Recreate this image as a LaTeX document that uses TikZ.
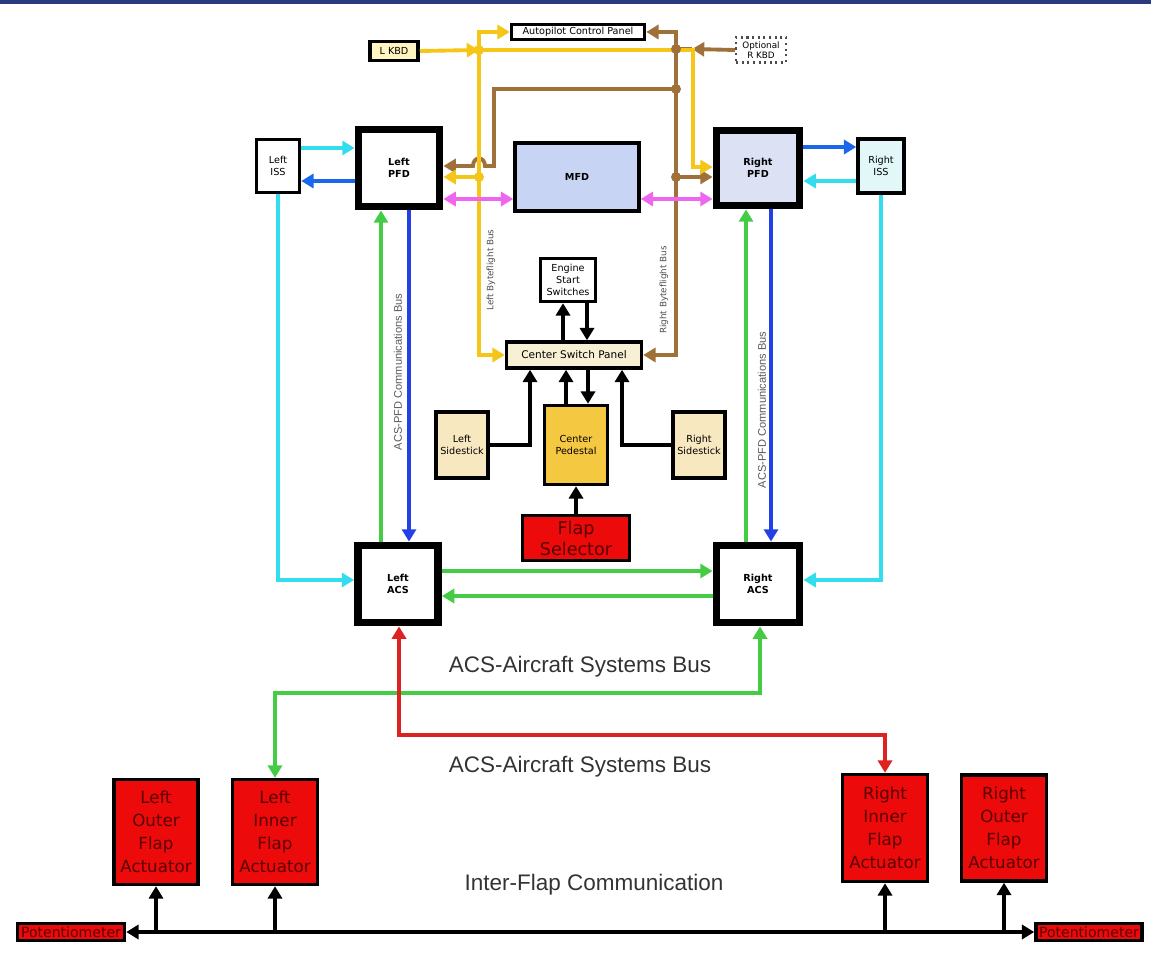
\documentclass[tikz,border=0pt]{standalone}
\usepackage{fontspec}
\setmainfont{Liberation Sans}
\newfontfamily\boxfont{DejaVu Sans}
\usetikzlibrary{arrows.meta}
\definecolor{navy}{HTML}{2B3A7E}
\definecolor{busyellow}{HTML}{F5C518}
\definecolor{busbrown}{HTML}{A0703A}
\definecolor{isscyan}{HTML}{33DDEE}
\definecolor{pfdblue}{HTML}{2340E6}
\definecolor{mfdpink}{HTML}{EE66EE}
\definecolor{acsgreen}{HTML}{44CC44}
\definecolor{acsred}{HTML}{DD2222}
\definecolor{flapred}{HTML}{EC0A0A}
\definecolor{flaptext}{HTML}{5A0000}
\definecolor{mfdfill}{HTML}{C8D4F4}
\definecolor{pfdfill}{HTML}{DCE2F4}
\definecolor{issfill}{HTML}{E2F8F8}
\definecolor{kbdfill}{HTML}{FFF5C0}
\definecolor{cspfill}{HTML}{F8F0D4}
\definecolor{stickfill}{HTML}{F8E8C0}
\definecolor{pedfill}{HTML}{F5C842}
\begin{document}
\begin{tikzpicture}[x=0.02cm, y=-0.02cm, >={Triangle[length=7pt,width=8pt]},
	box/.style={draw, line width=2pt, fill=white, align=center, inner sep=1pt, font=\boxfont\fontsize{5.5}{7}\selectfont},
	thickbox/.style={box, line width=4.5pt, font=\boxfont\bfseries\fontsize{5.5}{7}\selectfont},
	flapbox/.style={box, fill=flapred, text=flaptext, font=\boxfont\fontsize{9.5}{13}\selectfont},
	potbox/.style={box, fill=flapred, text=flaptext, font=\boxfont\fontsize{8}{9}\selectfont},
	buslabel/.style={font=\fontsize{12.8}{14}\selectfont, text=black!80},
	sidelabel/.style={rotate=90, font=\fontsize{6.3}{7}\selectfont, text=black!65},
	bflabel/.style={rotate=90, font=\boxfont\fontsize{5}{6}\selectfont, text=black!70},
	ybus/.style={busyellow, line width=2.2pt},
	bbus/.style={busbrown, line width=2.2pt},
	wire/.style={line width=2.2pt}]
	\useasboundingbox (0,0) rectangle (1151,962);
	\fill[navy] (0,0) rectangle (1151,4);

	\node[box, fill=kbdfill, minimum width=0.96cm, minimum height=0.38cm] (lkbd) at (394,51) {L KBD};
	\node[box, minimum width=2.66cm, minimum height=0.3cm] (apcp) at (578,32) {Autopilot Control Panel};
	\node[box, draw=black!70, line width=1.2pt, dotted, minimum width=1.0cm, minimum height=0.5cm, font=\boxfont\fontsize{5}{6}\selectfont] (rkbd) at (761,50) {Optional\\R KBD};
	\node[box, minimum width=0.86cm, minimum height=1.06cm] (liss) at (278,166) {Left\\ISS};
	\node[thickbox, minimum width=1.62cm, minimum height=1.54cm] (lpfd) at (399,168) {Left\\PFD};
	\node[box, fill=mfdfill, minimum width=2.48cm, minimum height=1.36cm, font=\boxfont\bfseries\fontsize{5.5}{7}\selectfont] (mfd) at (577,177) {MFD};
	\node[thickbox, fill=pfdfill, minimum width=1.66cm, minimum height=1.5cm] (rpfd) at (758,168) {Right\\PFD};
	\node[box, fill=issfill, minimum width=0.92cm, minimum height=1.08cm] (riss) at (881,166) {Right\\ISS};
	\node[box, minimum width=1.1cm, minimum height=0.86cm] (ess) at (568,280) {Engine\\Start\\Switches};
	\node[box, fill=cspfill, minimum width=2.7cm, minimum height=0.52cm, font=\boxfont\fontsize{6}{7}\selectfont] (csp) at (574,355) {Center Switch Panel};
	\node[box, fill=stickfill, minimum width=1.04cm, minimum height=1.32cm] (lstick) at (462,445) {Left\\Sidestick};
	\node[box, fill=pedfill, minimum width=1.26cm, minimum height=1.58cm] (pedestal) at (576,445) {Center\\Pedestal};
	\node[box, fill=stickfill, minimum width=1.04cm, minimum height=1.32cm] (rstick) at (699,445) {Right\\Sidestick};
	\node[flapbox, minimum width=2.14cm, minimum height=0.9cm, font=\boxfont\fontsize{10}{12}\selectfont] (flapsel) at (576,538) {Flap\\Selector};
	\node[thickbox, minimum width=1.6cm, minimum height=1.54cm] (lacs) at (398,584) {Left\\ACS};
	\node[thickbox, minimum width=1.66cm, minimum height=1.54cm] (racs) at (758,584) {Right\\ACS};
	\node[flapbox, minimum width=1.68cm, minimum height=2.1cm] (lofa) at (156,832) {Left\\Outer\\Flap\\Actuator};
	\node[flapbox, minimum width=1.7cm, minimum height=2.1cm] (lifa) at (275,832) {Left\\Inner\\Flap\\Actuator};
	\node[flapbox, minimum width=1.7cm, minimum height=2.14cm] (rifa) at (885,828) {Right\\Inner\\Flap\\Actuator};
	\node[flapbox, minimum width=1.7cm, minimum height=2.12cm] (rofa) at (1004,828) {Right\\Outer\\Flap\\Actuator};
	\node[potbox, minimum width=2.14cm, minimum height=0.34cm] (lpot) at (71,932) {Potentiometer};
	\node[potbox, minimum width=2.12cm, minimum height=0.34cm] (rpot) at (1089,932) {Potentiometer};

	\node[buslabel] (sysbus1) at (580,667) {ACS-Aircraft Systems Bus};
	\node[buslabel] (sysbus2) at (580,767) {ACS-Aircraft Systems Bus};
	\node[buslabel] (interflap) at (594,885) {Inter-Flap Communication};
	\node[sidelabel] (lcomm) at (398,372) {ACS-PFD Communications Bus};
	\node[sidelabel] (rcomm) at (762,410) {ACS-PFD Communications Bus};
	\node[bflabel] (lbf) at (491,270) {Left Byteflight Bus};
	\node[bflabel] (rbf) at (664,290) {Right Byteflight Bus};

	\coordinate (jy1) at (479,50);
	\coordinate (jy2) at (479,177);
	\coordinate (jb0) at (676,49);
	\coordinate (jb1) at (676,89);
	\coordinate (jb2) at (676,177);
	\coordinate (rk) at (692,49);

	\draw[bbus, <->] (apcp.east) -| (676,355) -- (csp.east);
	\draw[bbus, ->] (jb1) -- (494,89) -- (494,166) -- (485,166) .. controls (485,156) and (473,156) .. (473,166) -- (lpfd.east |- 0,166);
	\draw[bbus, ->] (jb2) -- (rpfd.west |- jb2);
	\draw[bbus, ->] (rkbd.west) -- (rk);
	\draw[bbus] (rk) -- (jb0);
	\draw[ybus, ->] (lkbd.east) -- (jy1);
	\draw[ybus, ->] (jy1) -- (693,50) -- (693,167) -- (rpfd.west |- 0,167);
	\draw[ybus, <->] (apcp.west) -| (479,355) -- (csp.west);
	\draw[ybus, ->] (jy2) -- (lpfd.east |- jy2);
	\foreach \j in {jy1,jy2} \fill[busyellow] (\j) circle (5);
	\foreach \j in {jb0,jb1,jb2} \fill[busbrown] (\j) circle (5);

	\draw[wire, isscyan, ->] (liss.east |- 0,148) -- (lpfd.west |- 0,148);
	\draw[wire, pfdblue!80!cyan, ->] (lpfd.west |- 0,181) -- (liss.east |- 0,181);
	\draw[wire, pfdblue!80!cyan, ->] (rpfd.east |- 0,147) -- (riss.west |- 0,147);
	\draw[wire, isscyan, ->] (riss.west |- 0,181) -- (rpfd.east |- 0,181);
	\draw[wire, mfdpink, <->] (lpfd.east |- 0,199) -- (mfd.west |- 0,199);
	\draw[wire, mfdpink, <->] (mfd.east |- 0,199) -- (rpfd.west |- 0,199);
	\draw[wire, isscyan, ->] (liss.south) |- (lacs.west |- 0,580);
	\draw[wire, isscyan, ->] (riss.south) |- (racs.east |- 0,580);

	\draw[wire, acsgreen, ->] (lacs.north -| 381,0) -- (lpfd.south -| 381,0);
	\draw[wire, pfdblue, ->] (lpfd.south -| 409,0) -- (lacs.north -| 409,0);
	\draw[wire, acsgreen, ->] (racs.north -| 746,0) -- (rpfd.south -| 746,0);
	\draw[wire, pfdblue, ->] (rpfd.south -| 771,0) -- (racs.north -| 771,0);
	\draw[wire, acsgreen, ->] (lacs.east |- 0,571) -- (racs.west |- 0,571);
	\draw[wire, acsgreen, ->] (racs.west |- 0,596) -- (lacs.east |- 0,596);
	\draw[wire, acsgreen, <->] (racs.south -| 760,0) -- (760,693) -| (lifa.north);
	\draw[wire, acsred, <->] (lacs.south -| 399,0) -- (399,735) -| (rifa.north);

	\draw[wire, ->] (csp.north -| 563,0) -- (ess.south -| 563,0);
	\draw[wire, ->] (ess.south -| 587,0) -- (csp.north -| 587,0);
	\draw[wire, ->] (lstick.east) -| (csp.south -| 530,0);
	\draw[wire, ->] (rstick.west) -| (csp.south -| 622,0);
	\draw[wire, ->] (pedestal.north -| 566,0) -- (csp.south -| 566,0);
	\draw[wire, ->] (csp.south -| 588,0) -- (pedestal.north -| 588,0);
	\draw[wire, ->] (flapsel.north) -- (pedestal.south);

	\draw[wire, <->] (lpot.east) -- (rpot.west);
	\foreach \n in {lofa,lifa,rifa,rofa}
		\draw[wire, ->] (lpot.east -| \n.south) -- (\n.south);
\end{tikzpicture}
\end{document}
